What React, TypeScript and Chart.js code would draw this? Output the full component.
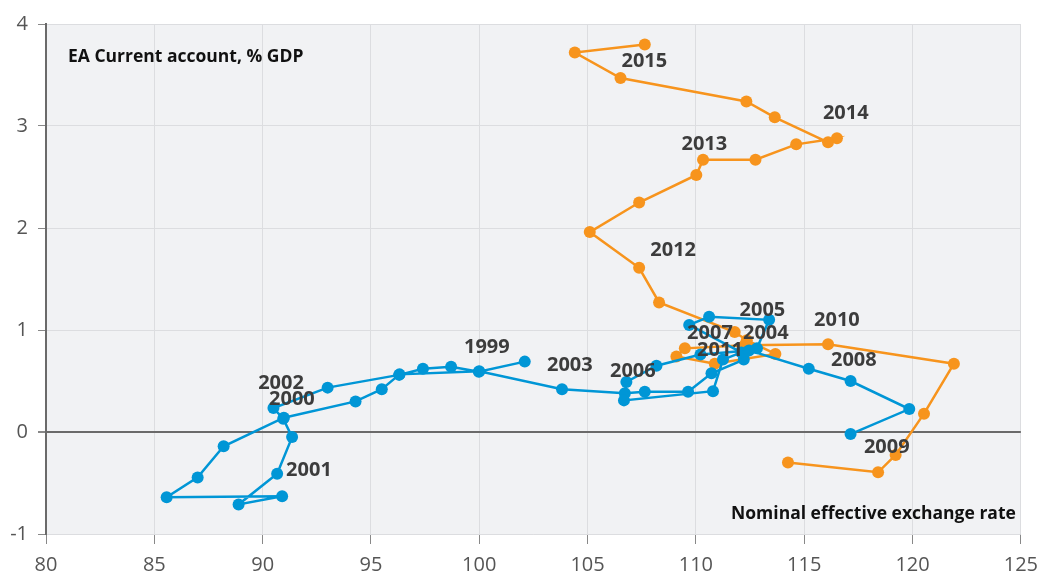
import React, { useEffect, useRef } from "react";
import { Chart, registerables } from "chart.js";

Chart.register(...registerables);

// Blue path (1999 - 2009)
const blueX = [
  102.1, 99.98, 98.7, 97.4, 96.3, 93.0, 90.5, 90.95, 91.36, 90.67, 88.89, 90.9, 85.57, 87.0, 88.2,
  90.98, 94.29, 95.5, 96.32, 100.0, 103.82, 106.72, 107.64, 109.64, 110.72, 112.21, 112.82, 113.38,
  110.61, 109.69, 112.1, 111.25, 110.79, 106.68, 106.79, 108.18, 110.21, 112.45, 115.21, 117.14,
  119.85, 117.14,
];
const blueY = [
  0.69, 0.59, 0.64, 0.62, 0.56, 0.435, 0.235, 0.13, -0.05, -0.41, -0.71, -0.63, -0.64, -0.445, -0.14,
  0.14, 0.3, 0.42, 0.565, 0.595, 0.42, 0.38, 0.395, 0.395, 0.575, 0.71, 0.82, 1.1,
  1.13, 1.05, 0.78, 0.71, 0.4, 0.31, 0.49, 0.65, 0.76, 0.8, 0.62, 0.5,
  0.225, -0.02,
];

// Orange path (2009 - 2015)
const orangeX = [
  114.25, 118.41, 119.22, 120.53, 121.91, 116.1, 112.25, 109.49, 109.1, 110.87, 113.67, 112.35,
  111.79, 108.3, 107.38, 105.1, 107.38, 110.02, 110.33, 112.75, 114.63, 116.51, 116.1, 113.64,
  112.33, 106.52, 104.41, 107.64,
];
const orangeY = [
  -0.3, -0.395, -0.225, 0.18, 0.67, 0.86, 0.85, 0.82, 0.74, 0.67, 0.765, 0.9,
  0.98, 1.27, 1.61, 1.96, 2.25, 2.52, 2.67, 2.67, 2.82, 2.88, 2.84, 3.085,
  3.24, 3.47, 3.72, 3.8,
];

// Year labels (anchor positions in data units)
const labelYears = [
  "2015", "2014", "2013", "2012", "2005", "2010", "2007", "2004", "2011",
  "2006", "2003", "1999", "2002", "2000", "2001", "2008", "2009",
];
const labelX = [
  107.62, 116.92, 110.39, 108.95, 113.07, 116.51, 110.65, 113.23, 111.11,
  107.09, 104.18, 100.35, 90.85, 91.35, 92.14, 117.29, 118.81,
];
const labelY = [
  3.63, 3.125, 2.824, 1.784, 1.196, 1.098, 0.971, 0.971, 0.8,
  0.598, 0.657, 0.833, 0.48, 0.324, -0.373, 0.706, -0.147,
];

const yTitle = "EA Current account, % GDP";
const xTitle = "Nominal effective exchange rate";

const BLUE = "#0096d6";
const ORANGE = "#f7941d";
const FONT = "'Open Sans', 'Noto Sans', sans-serif";

export default function App() {
  const ref = useRef<HTMLCanvasElement | null>(null);

  useEffect(() => {
    document.body.style.margin = "0";
    const canvas = ref.current;
    if (!canvas) return;

    const bgPlugin = {
      id: "plotBg",
      beforeDraw(chart: any) {
        const { ctx, chartArea } = chart;
        ctx.save();
        ctx.fillStyle = "#f1f2f4";
        ctx.fillRect(chartArea.left, chartArea.top, chartArea.right - chartArea.left, chartArea.bottom - chartArea.top);
        ctx.restore();
      },
    };

    const labelPlugin = {
      id: "yearLabels",
      afterDatasetsDraw(chart: any) {
        const { ctx, chartArea } = chart;
        const xs = chart.scales.x;
        const ys = chart.scales.y;
        ctx.save();
        ctx.font = `bold 20px ${FONT}`;
        ctx.fillStyle = "#3c3c3c";
        ctx.textAlign = "center";
        ctx.textBaseline = "middle";
        labelYears.forEach((t, i) => {
          ctx.fillText(t, xs.getPixelForValue(labelX[i]), ys.getPixelForValue(labelY[i]));
        });
        ctx.font = `bold 17.5px ${FONT}`;
        ctx.fillStyle = "#111";
        ctx.textBaseline = "alphabetic";
        ctx.textAlign = "left";
        ctx.fillText(yTitle, chartArea.left + 22, chartArea.top + 38);
        ctx.textAlign = "right";
        ctx.fillText(xTitle, chartArea.right - 5, chartArea.bottom - 15);
        ctx.restore();
      },
    };

    const chart = new Chart(canvas, {
      type: "scatter",
      data: {
        datasets: [
          {
            label: "1999-2009",
            data: blueX.map((x, i) => ({ x, y: blueY[i] })),
            showLine: true,
            borderColor: BLUE,
            backgroundColor: BLUE,
            borderWidth: 2.5,
            pointRadius: 6,
            pointBorderWidth: 0,
            pointHoverRadius: 6,
          },
          {
            label: "2009-2015",
            data: orangeX.map((x, i) => ({ x, y: orangeY[i] })),
            showLine: true,
            borderColor: ORANGE,
            backgroundColor: ORANGE,
            borderWidth: 2.5,
            pointRadius: 6,
            pointBorderWidth: 0,
            pointHoverRadius: 6,
          },
        ],
      },
      options: {
        responsive: false,
        animation: false,
        layout: { padding: { top: 24, right: 26, left: 0, bottom: 0 } },
        plugins: {
          legend: { display: false },
          tooltip: { enabled: false },
        },
        scales: {
          x: {
            type: "linear",
            min: 80,
            max: 125,
            ticks: {
              stepSize: 5,
              color: "#555",
              font: { family: FONT, size: 20 },
              padding: 9,
            },
            grid: {
              color: "#dcdde0",
              lineWidth: 1,
              tickColor: "#888",
              tickLength: 10,
            },
            border: { display: false },
            afterFit(scale: any) {
              scale.height = 38;
            },
          },
          y: {
            type: "linear",
            min: -1,
            max: 4,
            ticks: {
              stepSize: 1,
              color: "#555",
              font: { family: FONT, size: 20 },
              padding: 10,
            },
            grid: {
              color: (c: any) => (c.tick && c.tick.value === 0 ? "#6a6a6a" : "#dcdde0"),
              lineWidth: (c: any) => (c.tick && c.tick.value === 0 ? 2 : 1),
              tickColor: "#888",
              tickLength: 8,
            },
            border: { display: true, color: "#6a6a6a", width: 2 },
            afterFit(scale: any) {
              scale.width = 46;
            },
          },
        },
      },
      plugins: [bgPlugin, labelPlugin],
    });

    return () => chart.destroy();
  }, []);

  return (
    <div style={{ position: "absolute", left: 0, top: 0, width: 1047, height: 572 }}>
      <canvas ref={ref} width={1047} height={572} />
    </div>
  );
}
